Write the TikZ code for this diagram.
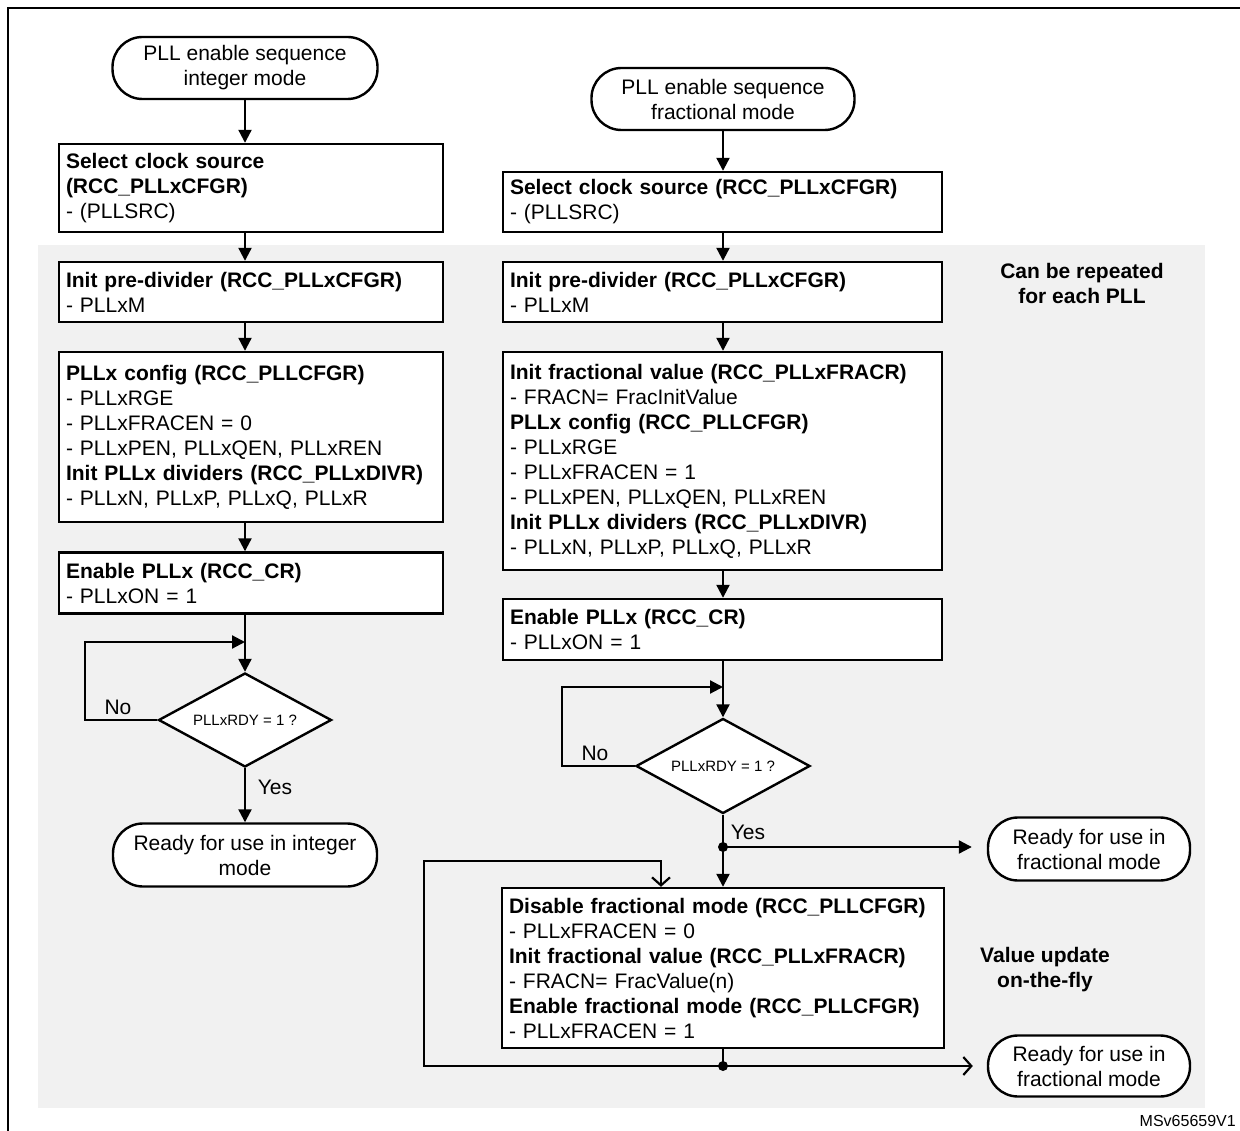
\documentclass[tikz,border=0pt]{standalone}
\usepackage{fontspec}
\setmainfont{Liberation Sans}
\usetikzlibrary{shapes.geometric,arrows.meta}
\definecolor{bggrey}{HTML}{F1F1F1}
\tikzset{
	box/.style={draw, line width=2.4pt, fill=white, align=left, inner xsep=7pt, inner ysep=2pt, font=\fontsize{21}{25}\selectfont},
	term/.style={draw, line width=2.4pt, fill=white, rounded corners=30pt, align=center, inner sep=0pt, font=\fontsize{21}{25}\selectfont},
	test/.style={draw, diamond, aspect=1.84, line width=2.4pt, fill=white, inner sep=0pt, font=\fontsize{15}{18}\selectfont},
	flow/.style={line width=2.2pt, -{Triangle[length=13pt,width=13pt]}},
	flowopen/.style={line width=2.2pt, -{Straight Barb[length=8pt,width=18pt,line width=2.2pt]}},
	lbl/.style={inner sep=0pt, align=center, font=\fontsize{21}{25}\selectfont},
	dot/.style={circle, fill, inner sep=0pt, minimum size=10pt}
}
\begin{document}
\begin{tikzpicture}[x=1pt,y=1pt,yscale=-1]
                \useasboundingbox (0,0) rectangle (1240,1131);
                \fill [bggrey] (38,245) rectangle (1205,1108);
                \draw [line width=2.4pt] (8,1131) -- (8,8) -- (1240,8);
                \node [term, minimum width=265pt, minimum height=62pt] (0) at (245, 68) {PLL enable sequence\\integer mode};
                \node [box, text width=370pt, minimum height=88pt] (1) at (251, 188) {\textbf{Select clock source}\\\textbf{(RCC\_PLLxCFGR)}\\- (PLLSRC)};
                \node [box, text width=370pt, minimum height=60pt] (2) at (251, 292) {\textbf{Init pre-divider (RCC\_PLLxCFGR)}\\- PLLxM};
                \node [box, text width=370pt, minimum height=170pt] (3) at (251, 437) {\textbf{PLLx config (RCC\_PLLCFGR)}\\- PLLxRGE\\- PLLxFRACEN = 0\\- PLLxPEN, PLLxQEN, PLLxREN\\\textbf{Init PLLx dividers (RCC\_PLLxDIVR)}\\- PLLxN, PLLxP, PLLxQ, PLLxR};
                \node [box, text width=370pt, minimum height=61pt] (4) at (251, 583) {\textbf{Enable PLLx (RCC\_CR)}\\- PLLxON = 1};
                \node [test, minimum width=173pt, minimum height=94pt] (5) at (245, 720) {PLLxRDY = 1 ?};
                \node [term, minimum width=264pt, minimum height=63pt] (6) at (245, 855) {Ready for use in integer\\mode};
                \node  (7) at (245, 642) {};
                \node  (8) at (85, 720) {};
                \node  (9) at (85, 642) {};
                \node [lbl] (10) at (118, 707) {No};
                \node [lbl] (11) at (275, 787) {Yes};
                \node [term, minimum width=263pt, minimum height=62pt] (12) at (723, 99) {PLL enable sequence\\fractional mode};
                \node [box, text width=425pt, minimum height=60pt] (13) at (722.5, 202) {\textbf{Select clock source (RCC\_PLLxCFGR)}\\- (PLLSRC)};
                \node [box, text width=425pt, minimum height=60pt] (14) at (722.5, 292) {\textbf{Init pre-divider (RCC\_PLLxCFGR)}\\- PLLxM};
                \node [box, text width=425pt, minimum height=218pt] (15) at (722.5, 461) {\textbf{Init fractional value (RCC\_PLLxFRACR)}\\- FRACN= FracInitValue\\\textbf{PLLx config (RCC\_PLLCFGR)}\\- PLLxRGE\\- PLLxFRACEN = 1\\- PLLxPEN, PLLxQEN, PLLxREN\\\textbf{Init PLLx dividers (RCC\_PLLxDIVR)}\\- PLLxN, PLLxP, PLLxQ, PLLxR};
                \node [box, text width=425pt, minimum height=61pt] (16) at (722.5, 629.5) {\textbf{Enable PLLx (RCC\_CR)}\\- PLLxON = 1};
                \node [test, minimum width=174pt, minimum height=95pt] (17) at (723, 766) {PLLxRDY = 1 ?};
                \node  (18) at (723, 687) {};
                \node  (19) at (562, 766) {};
                \node  (20) at (562, 687) {};
                \node [lbl] (21) at (595, 753) {No};
                \node [lbl] (22) at (748, 832) {Yes};
                \node [dot] (23) at (723, 847) {};
                \node [term, minimum width=202pt, minimum height=63pt] (24) at (1089, 849) {Ready for use in\\fractional mode};
                \node [box, text width=428pt, minimum height=160pt] (25) at (723, 968) {\textbf{Disable fractional mode (RCC\_PLLCFGR)}\\- PLLxFRACEN = 0\\\textbf{Init fractional value (RCC\_PLLxFRACR)}\\- FRACN= FracValue(n)\\\textbf{Enable fractional mode (RCC\_PLLCFGR)}\\- PLLxFRACEN = 1};
                \node [dot] (26) at (723, 1066) {};
                \node  (27) at (424, 1066) {};
                \node  (28) at (424, 861) {};
                \node  (29) at (661, 861) {};
                \node [term, minimum width=202pt, minimum height=61pt] (30) at (1089, 1066) {Ready for use in\\fractional mode};
                \node [lbl, font=\fontsize{21}{25}\selectfont\bfseries] (31) at (1082, 283.5) {Can be repeated\\for each PLL};
                \node [lbl, font=\fontsize{21}{25}\selectfont\bfseries] (32) at (1045, 970) {Value update\\on-the-fly};
                \node [lbl, anchor=east, font=\fontsize{16}{19}\selectfont] (33) at (1236, 1121) {MSv65659V1};
                \draw [flow] (0.south) to (0.south |- 1.north);
                \draw [flow] (0.south |- 1.south) to (0.south |- 2.north);
                \draw [flow] (0.south |- 2.south) to (0.south |- 3.north);
                \draw [flow] (0.south |- 3.south) to (0.south |- 4.north);
                \draw [line width=2.2pt] (0.south |- 4.south) to (7.center);
                \draw [flow] (7.center) to (5.north);
                \draw [flow] (5.west) to (8.center) to (9.center) to (7.center);
                \draw [flow] (5.south) to (6.north);
                \draw [flow] (12.south) to (12.south |- 13.north);
                \draw [flow] (12.south |- 13.south) to (12.south |- 14.north);
                \draw [flow] (12.south |- 14.south) to (12.south |- 15.north);
                \draw [flow] (12.south |- 15.south) to (12.south |- 16.north);
                \draw [line width=2.2pt] (12.south |- 16.south) to (18.center);
                \draw [flow] (18.center) to (17.north);
                \draw [flow] (17.west) to (19.center) to (20.center) to (18.center);
                \draw [line width=2.2pt] (17.south) to (23.center);
                \draw [flow, shorten >=15pt] (23.center) to (23.center -| 24.west);
                \draw [flow] (23.center) to (25.north);
                \draw [line width=2.2pt] (25.south) to (26.center);
                \draw [flowopen] (26.center) to (27.center) to (28.center) to (29.center) to (29.center |- 25.north);
                \draw [flowopen, shorten >=14pt] (26.center) to (26.center -| 30.west);
\end{tikzpicture}
\end{document}
